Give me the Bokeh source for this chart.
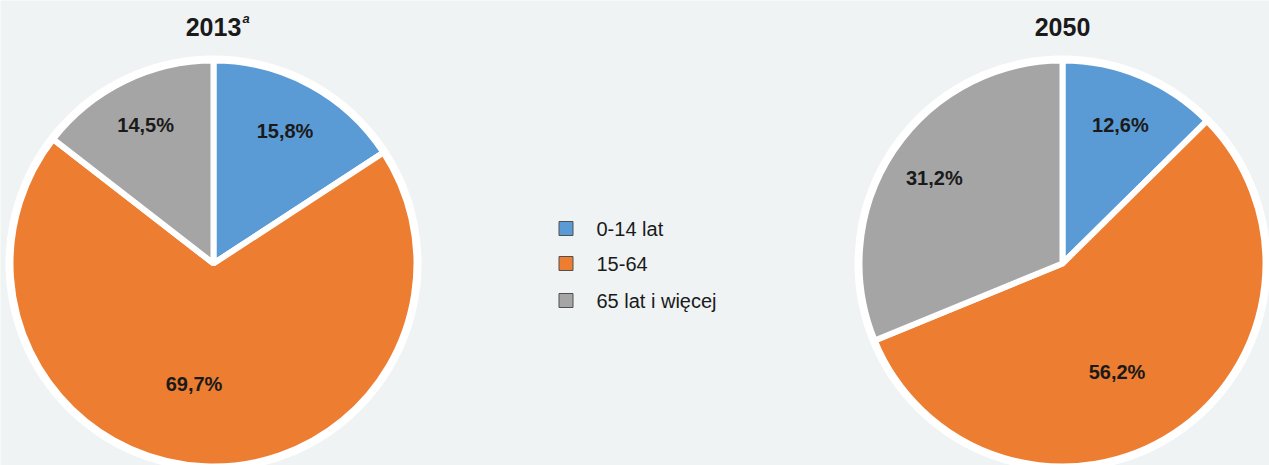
import math
from bokeh.plotting import figure
from bokeh.models import Range1d, ColumnDataSource
from bokeh.core.properties import value
from bokeh.embed import file_html
from bokeh.resources import INLINE

# ---- data ----
categories = ["0-14 lat", "15-64", "65 lat i więcej"]
shares_2013 = [15.8, 69.7, 14.5]
shares_2050 = [12.6, 56.2, 31.2]
years = ["2013", "2050"]
year_note = "a"

# ---- style ----
colors = ["#5b9bd5", "#ed7d31", "#a5a5a5"]
BG = "#eff3f4"
TXT = "#1a1a1a"
FONT = "Liberation Sans"

W, H = 1269, 465
p = figure(width=W, height=H, output_backend="svg", toolbar_location=None,
           x_range=Range1d(0, W), y_range=Range1d(0, H),
           min_border=0)
p.axis.visible = False
p.grid.visible = False
p.outline_line_color = None
p.background_fill_color = BG
p.border_fill_color = BG

def py(y):  # image-pixel y -> data y
    return H - y

R = 203
centers = [(213, py(263)), (1062, py(263))]
label_r = [0.74, 0.60, 0.76]
label_rot = [0.0, -0.12, 0.0]

for (cx, cy), shares, yr in zip(centers, [shares_2013, shares_2050], years):
    p.circle(x=[cx], y=[cy], radius=R + 5, fill_color="white", line_color=None)
    tot = sum(shares)
    cum = 0.0
    starts, ends, lx, ly, txt = [], [], [], [], []
    for i, s in enumerate(shares):
        a0 = math.pi / 2 - 2 * math.pi * cum / tot
        a1 = math.pi / 2 - 2 * math.pi * (cum + s) / tot
        starts.append(a0)
        ends.append(a1)
        mid = (a0 + a1) / 2 + label_rot[i]
        rr = label_r[i] * R
        lx.append(cx + rr * math.cos(mid))
        ly.append(cy + rr * math.sin(mid))
        txt.append(("%.1f%%" % s).replace(".", ","))
        cum += s
    src = ColumnDataSource(dict(x=[cx] * 3, y=[cy] * 3, s=starts, e=ends, c=colors))
    p.wedge(x="x", y="y", radius=R, start_angle="s", end_angle="e", direction="clock",
            fill_color="c", line_color="white", line_width=6, source=src)
    p.text(x=lx, y=ly, text=txt, text_align="center", text_baseline="middle",
           text_font=value(FONT), text_font_style="bold", text_font_size="20px",
           text_color=TXT)
    p.text(x=[cx], y=[py(26)], text=[yr], text_align="center", text_baseline="middle",
           text_font=value(FONT), text_font_style="bold", text_font_size="25px",
           text_color=TXT)

# superscript note on first title
p.text(x=[242], y=[py(18)], text=[year_note], text_align="left", text_baseline="middle",
       text_font=value(FONT), text_font_style="bold italic", text_font_size="13px",
       text_color=TXT)

# legend
leg_y = [py(228), py(263), py(300)]
p.rect(x=[565.5] * 3, y=leg_y, width=14, height=14, fill_color=colors,
       line_color="#505050", line_width=1)
p.text(x=[596] * 3, y=leg_y, text=categories, text_align="left", text_baseline="middle",
       text_font=value(FONT), text_font_size="20px", text_color=TXT)

open("out.html", "w").write(file_html(p, INLINE))
